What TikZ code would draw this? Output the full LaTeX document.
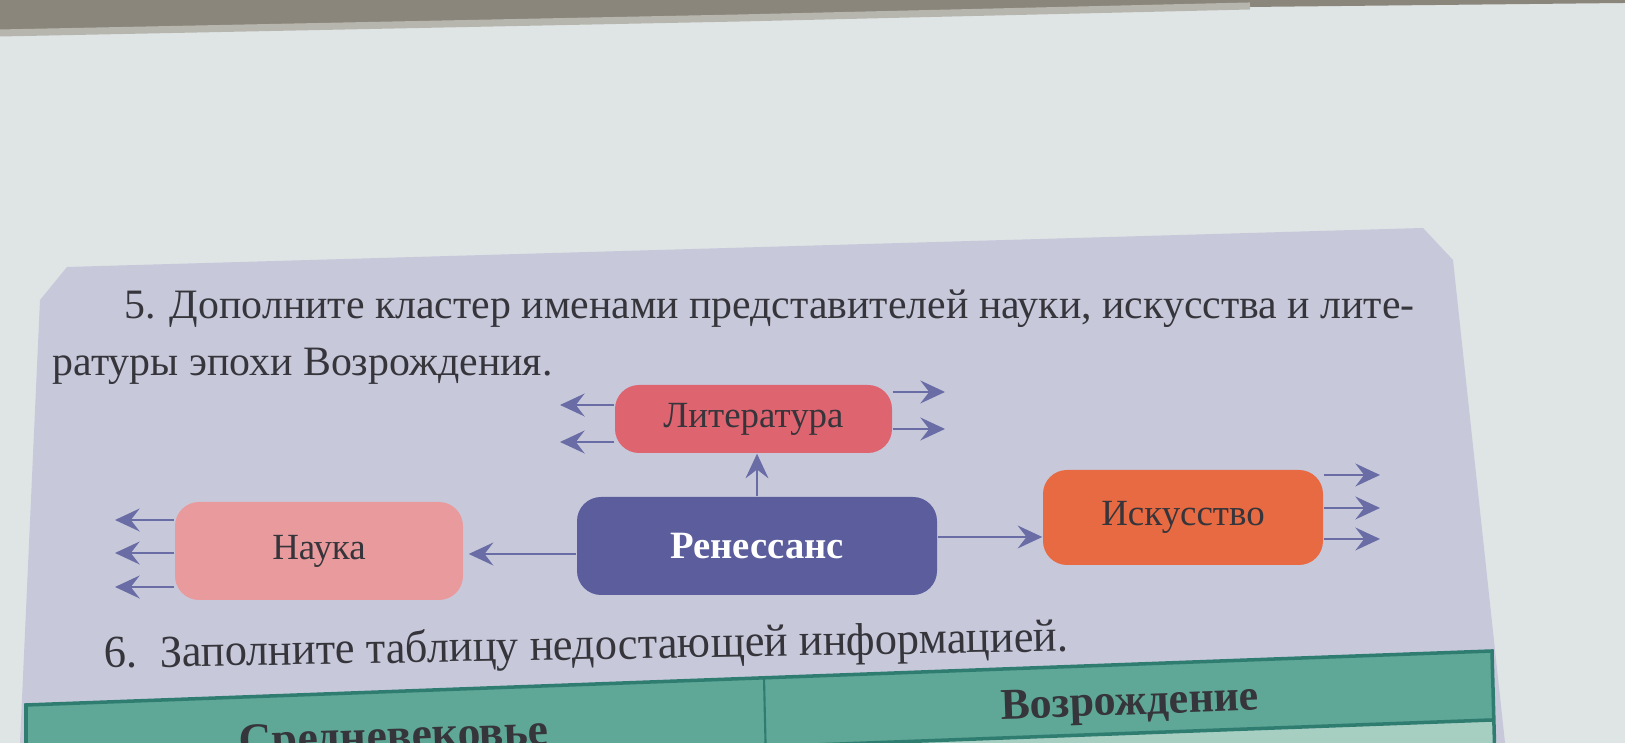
\documentclass[tikz,border=0pt]{standalone}
\usepackage{fontspec}
\setmainfont{Liberation Serif}
\usetikzlibrary{arrows.meta}
\definecolor{desk-grey}{HTML}{8A867C}
\definecolor{desk-edge}{HTML}{B7B6AE}
\definecolor{paper-white}{HTML}{DFE4E5}
\definecolor{page-lilac}{HTML}{C7C9DB}
\definecolor{lit-red}{HTML}{DE6470}
\definecolor{sci-pink}{HTML}{E99A9C}
\definecolor{ren-blue}{HTML}{5B5D9C}
\definecolor{art-orange}{HTML}{E76A42}
\definecolor{arrow-blue}{HTML}{6A6CA6}
\definecolor{ink}{HTML}{35353B}
\definecolor{table-green}{HTML}{5FA796}
\definecolor{table-light}{HTML}{A6CFC2}
\definecolor{table-edge}{HTML}{2F7C70}

\begin{document}
\begin{tikzpicture}[every node/.style={font=\fontsize{10.5}{12}\selectfont, text=ink},
    box/.style={rounded corners=0.24cm, minimum height=0.98cm, inner sep=0pt},
    line/.style={anchor=base west, inner sep=0pt},
    link/.style={-{Stealth[length=7pt, width=6.5pt, inset=2.5pt]}, line width=0.8pt,
      color=arrow-blue}]
    \useasboundingbox (0,0) rectangle (16.25,7.43);
    \clip (0,0) rectangle (16.25,7.43);
    % photo background: paper, desk edge, printed page
    \fill[paper-white] (0,0) rectangle (16.25,7.43);
    \fill[desk-grey] (0,7.43) -- (16.25,7.43) -- (16.25,7.40) -- (12.5,7.36)
      -- (7.4,7.23) -- (0,7.08) -- cycle;
    \draw[desk-edge, line width=2pt] (0,7.10) -- (7.4,7.25) -- (12.5,7.37);
    \fill[page-lilac] (0.67,4.76) -- (14.23,5.15) -- (14.53,4.83) -- (15.05,0)
      -- (0.20,0) -- (0.40,4.43) -- cycle;

    % task 5
    \node[line, font=\fontsize{11.9}{14}\selectfont] (task5a) at (1.24,4.24)
      {5. Дополните кластер именами представителей науки, искусства и лите-};
    \node[line, font=\fontsize{11.9}{14}\selectfont] (task5b) at (0.52,3.67)
      {ратуры эпохи Возрождения.};

    \node[box, fill=lit-red, minimum width=2.77cm, minimum height=0.68cm] (lit)
      at (7.535,3.24) {Литература};
    \node[box, fill=sci-pink, minimum width=2.88cm] (sci) at (3.19,1.92) {Наука};
    \node[box, fill=ren-blue, minimum width=3.60cm, text=white,
      font=\fontsize{11}{13}\selectfont\bfseries] (ren) at (7.57,1.97) {Ренессанс};
    \node[box, fill=art-orange, minimum width=2.80cm, minimum height=0.95cm] (art)
      at (11.83,2.255) {Искусство};

    \draw[link] (ren.north) -- (ren.north |- lit.south);
    \coordinate (ren-sci) at ([yshift=-0.08cm]ren.west);
    \draw[link, shorten >=0.05cm] (ren-sci) -- (ren-sci -| sci.east);
    \coordinate (ren-art) at ([yshift=0.09cm]ren.east);
    \draw[link] (ren-art) -- (ren-art -| art.west);

    % open ends for the names
    \foreach \y [count=\i] in {3.38,3.01} {
      \coordinate (lit-w\i) at (5.60,\y);
      \draw[link] (lit.west |- lit-w\i) -- (lit-w\i);
    }
    \foreach \y [count=\i] in {3.51,3.14} {
      \coordinate (lit-e\i) at (9.45,\y);
      \draw[link] (lit.east |- lit-e\i) -- (lit-e\i);
    }
    \foreach \y [count=\i] in {2.23,1.90,1.56} {
      \coordinate (sci-w\i) at (1.15,\y);
      \draw[link] (sci.west |- sci-w\i) -- (sci-w\i);
    }
    \foreach \y [count=\i] in {2.68,2.35,2.04} {
      \coordinate (art-e\i) at (13.80,\y);
      \draw[link] (art.east |- art-e\i) -- (art-e\i);
    }

    % task 6 and the table head
    \node[line, rotate=1, xscale=0.97, font=\fontsize{13}{15}\selectfont] (task6)
      at (1.04,0.75) {6.\enspace Заполните таблицу недостающей информацией.};
    \fill[table-green] (0.26,0.38) -- (14.92,0.92) -- (14.92,0.23) -- (0.26,-0.31) -- cycle;
    \fill[table-light] (0.26,-0.31) -- (14.92,0.23) -- (14.95,-0.2) -- (0.26,-0.2) -- cycle;
    \draw[table-edge, line width=1pt] (0.26,-0.31) -- (0.26,0.38) -- (14.92,0.92)
      -- (14.95,-0.2);
    \draw[table-edge, line width=1pt] (0.26,-0.31) -- (14.92,0.23);
    \draw[table-edge, line width=0.6pt] (7.64,0.65) -- (7.66,-0.2);
    \node[rotate=2, font=\fontsize{13}{15}\selectfont\bfseries] (head-mid) at (3.94,0.03)
      {Средневековье};
    \node[rotate=2, font=\fontsize{12.5}{15}\selectfont\bfseries] (head-ren) at (11.30,0.38)
      {Возрождение};
  \end{tikzpicture}
\end{document}
